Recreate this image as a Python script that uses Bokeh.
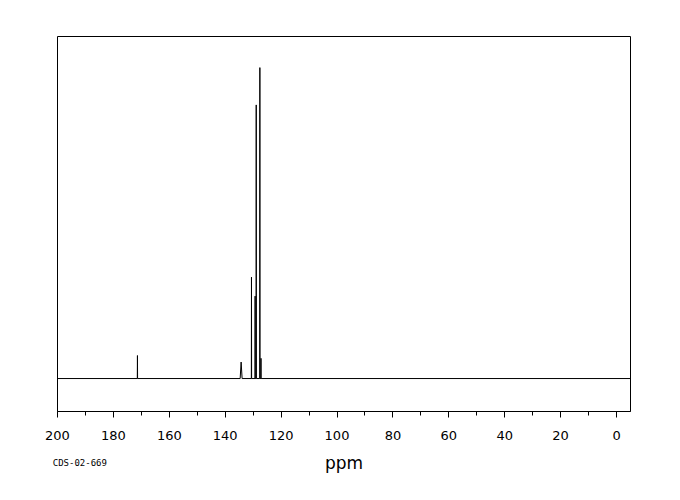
import numpy as np
from bokeh.plotting import figure
from bokeh.models import FixedTicker, LinearAxis, Range1d
from bokeh.embed import file_html
from bokeh.resources import INLINE

# Peak list (ppm) and relative intensities
peak_ppm = [171.4, 134.3, 130.6, 129.3, 128.9, 127.6, 127.2]
peak_int = [7.4, 5.3, 32.6, 26.5, 88.0, 100.0, 6.5]
peak_w = [0.05, 0.35, 0.05, 0.05, 0.05, 0.05, 0.05]
x_ticks = [200, 180, 160, 140, 120, 100, 80, 60, 40, 20, 0]
x_minor = [190, 170, 150, 130, 110, 90, 70, 50, 30, 10]
sample_id = "CDS-02-669"
sample_id_pos = 192

# build stick spectrum polyline from the peak list
order = np.argsort(peak_ppm)[::-1]
xs = [200.0]
ys = [0.0]
for i in order:
    c, h, w = peak_ppm[i], peak_int[i], peak_w[i]
    xs += [c + w, c, c - w]
    ys += [0.0, h, 0.0]
xs.append(-5.0)
ys.append(0.0)

p = figure(width=672, height=492, output_backend="svg", toolbar_location=None,
           x_range=Range1d(200, -5), y_range=Range1d(-10.6, 110),
           min_border_left=57, min_border_right=42, min_border_top=36, min_border_bottom=81)
p.line(xs, ys, line_color="black", line_width=1)

p.xgrid.visible = False
p.ygrid.visible = False
p.yaxis.visible = False
p.outline_line_color = "black"
p.outline_line_width = 1
p.background_fill_color = "white"
p.border_fill_color = "white"

ax = p.xaxis[0]
ax.ticker = FixedTicker(ticks=x_ticks, minor_ticks=x_minor)
ax.axis_line_color = "black"
ax.major_tick_line_color = "black"
ax.minor_tick_line_color = "black"
ax.major_tick_out = 6
ax.major_tick_in = 0
ax.minor_tick_out = 4
ax.minor_tick_in = 0
ax.major_label_text_font = "DejaVu Sans"
ax.major_label_text_font_size = "13px"
ax.major_label_text_color = "black"
ax.major_label_standoff = 13
ax.axis_label = "ppm"
ax.axis_label_text_font = "DejaVu Sans"
ax.axis_label_text_font_style = "normal"
ax.axis_label_text_font_size = "17px"
ax.axis_label_text_color = "black"
ax.axis_label_standoff = 10

# sample identifier drawn as a label-only axis, pulled up beside "ppm"
ax2 = LinearAxis(ticker=FixedTicker(ticks=[sample_id_pos], minor_ticks=[]),
                 major_label_overrides={sample_id_pos: sample_id})
ax2.axis_line_color = None
ax2.major_tick_line_color = None
ax2.minor_tick_line_color = None
ax2.major_tick_out = 0
ax2.major_tick_in = 0
ax2.major_label_text_font = "DejaVu Sans Mono"
ax2.major_label_text_font_size = "9px"
ax2.major_label_text_color = "black"
ax2.major_label_standoff = -18
p.add_layout(ax2, "below")

open("out.html", "w").write(file_html(p, INLINE))
